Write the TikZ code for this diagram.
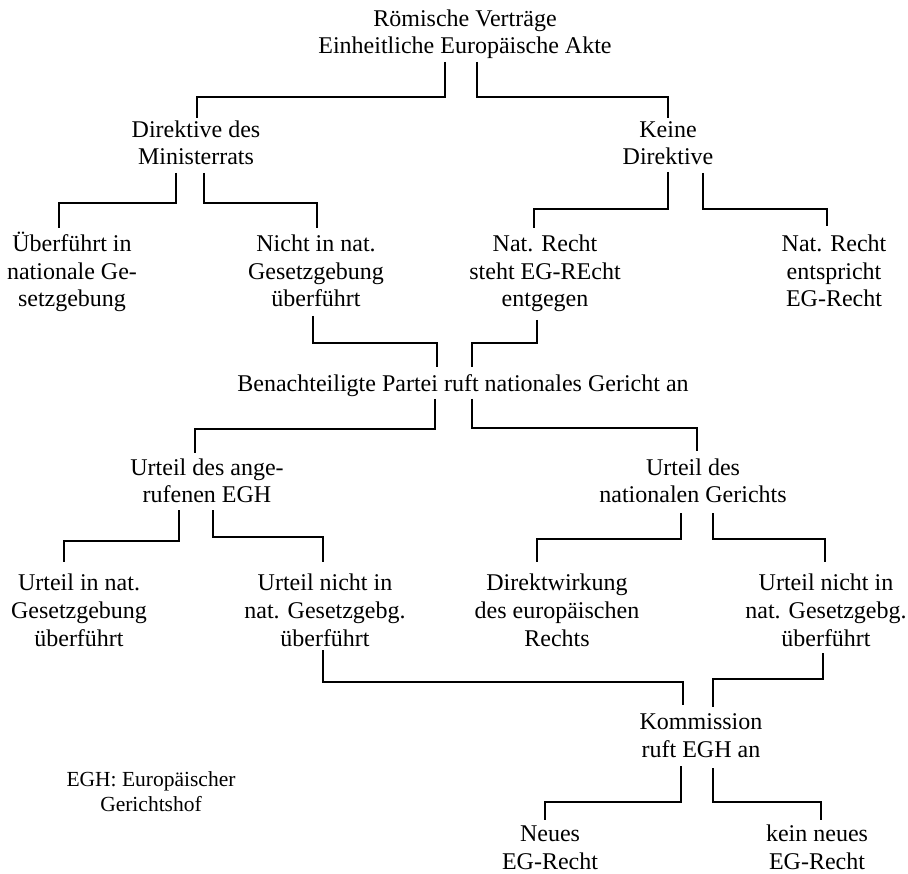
\documentclass[tikz,border=0pt]{standalone}
\usepackage{fontspec}
\setmainfont{Liberation Serif}
\begin{document}
\begin{tikzpicture}[x=1pt,y=-1pt,
  lbl/.style={align=center,inner sep=0pt,anchor=base,font=\fontsize{24}{27.8}\selectfont},
  legend/.style={align=center,inner sep=0pt,anchor=base,font=\fontsize{21.5}{25}\selectfont},
  conn/.style={line width=2.4pt}]
\useasboundingbox[fill=white] (0,0) rectangle (908,874);
% nodes (positioned at the baseline of their last line)
\node[lbl] (top) at (465,54) {Römische Verträge\\Einheitliche Europäische Akte};
\node[lbl] (dir) at (196,165) {Direktive des\\Ministerrats};
\node[lbl] (keine) at (668,165) {Keine\\Direktive};
\node[lbl] (ueb) at (72,307) {Überführt in\\nationale Ge-\\setzgebung};
\node[lbl] (nicht) at (316,307) {Nicht in nat.\\Gesetzgebung\\überführt};
\node[lbl] (entg) at (545,307) {Nat. Recht\\steht EG-REcht\\entgegen};
\node[lbl] (entspr) at (834,307) {Nat. Recht\\entspricht\\EG-Recht};
\node[lbl] (ben) at (463,392) {Benachteiligte Partei ruft nationales Gericht an};
\node[lbl] (uegh) at (207,503) {Urteil des ange-\\rufenen EGH};
\node[lbl] (unat) at (693,503) {Urteil des\\nationalen Gerichts};
\node[lbl] (uin) at (79,646) {Urteil in nat.\\Gesetzgebung\\überführt};
\node[lbl] (unicht1) at (325,646) {Urteil nicht in\\nat. Gesetzgebg.\\überführt};
\node[lbl] (direkt) at (557,646) {Direktwirkung\\des europäischen\\Rechts};
\node[lbl] (unicht2) at (826,646) {Urteil nicht in\\nat. Gesetzgebg.\\überführt};
\node[lbl] (komm) at (701,757) {Kommission\\ruft EGH an};
\node[lbl] (neues) at (550,869) {Neues\\EG-Recht};
\node[lbl] (kein) at (817,869) {kein neues\\EG-Recht};
\node[legend] (leg) at (151,811) {EGH: Europäischer\\Gerichtshof};
% connector end points
\coordinate (a1) at (445,62);  \coordinate (b1) at (197,118);
\coordinate (a2) at (477,62);  \coordinate (b2) at (668,118);
\coordinate (a3) at (176,173); \coordinate (b3) at (59,228);
\coordinate (a4) at (204,173); \coordinate (b4) at (317,228);
\coordinate (a5) at (668,172); \coordinate (b5) at (534,228);
\coordinate (a6) at (703,173); \coordinate (b6) at (827,226);
\coordinate (a7) at (313,316); \coordinate (b7) at (437,367);
\coordinate (a8) at (537,320); \coordinate (b8) at (472,367);
\coordinate (a9) at (435,399); \coordinate (b9) at (195,453);
\coordinate (a10) at (472,399); \coordinate (b10) at (697,451);
\coordinate (a11) at (179,510); \coordinate (b11) at (64,562);
\coordinate (a12) at (213,510); \coordinate (b12) at (323,562);
\coordinate (a13) at (681,513); \coordinate (b13) at (537,562);
\coordinate (a14) at (713,513); \coordinate (b14) at (825,562);
\coordinate (a15) at (323,650); \coordinate (b15) at (683,705);
\coordinate (a16) at (823,653); \coordinate (b16) at (713,707);
\coordinate (a17) at (681,766); \coordinate (b17) at (545,820);
\coordinate (a18) at (713,768); \coordinate (b18) at (821,820);
% connectors
\draw[conn] (a1) -- ++(0,35) -| (b1);
\draw[conn] (a2) -- ++(0,35) -| (b2);
\draw[conn] (a3) -- ++(0,30) -| (b3);
\draw[conn] (a4) -- ++(0,30) -| (b4);
\draw[conn] (a5) -- ++(0,37) -| (b5);
\draw[conn] (a6) -- ++(0,36) -| (b6);
\draw[conn] (a7) -- ++(0,27) -| (b7);
\draw[conn] (a8) -- ++(0,23) -| (b8);
\draw[conn] (a9) -- ++(0,30) -| (b9);
\draw[conn] (a10) -- ++(0,29) -| (b10);
\draw[conn] (a11) -- ++(0,31) -| (b11);
\draw[conn] (a12) -- ++(0,27) -| (b12);
\draw[conn] (a13) -- ++(0,26) -| (b13);
\draw[conn] (a14) -- ++(0,26) -| (b14);
\draw[conn] (a15) -- ++(0,32) -| (b15);
\draw[conn] (a16) -- ++(0,26) -| (b16);
\draw[conn] (a17) -- ++(0,36) -| (b17);
\draw[conn] (a18) -- ++(0,34) -| (b18);
\end{tikzpicture}
\end{document}
